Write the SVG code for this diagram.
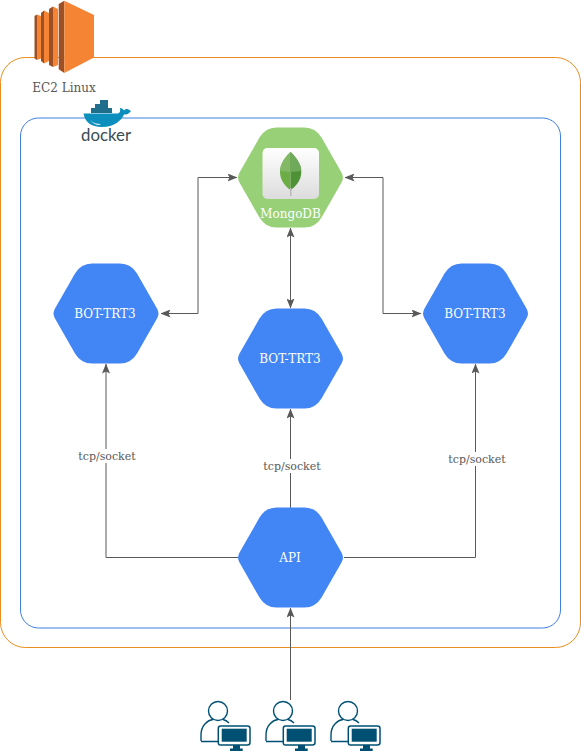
<svg xmlns="http://www.w3.org/2000/svg" width="581" height="752" viewBox="0 0 581 752">
<style>
.lbl{font-family:"DejaVu Serif",serif;font-size:12px;text-anchor:middle;fill:#fff}
.edge{fill:none;stroke:#595959;stroke-width:1}
.elbl{font-family:"DejaVu Serif",serif;font-size:11px;text-anchor:middle;fill:#595959}
.lblbg{fill:#fff}
.usr{fill:none;stroke:#005073;stroke-width:1.4}
.mon{fill:#005073}
</style>
<defs>
<path id="hex" d="M-52.500 0Q-52.500 -2 -51 -5L-31 -40Q-25 -50 -14 -50L14 -50Q25 -50 31 -40L51 -5Q52.500 -2 52.500 0Q52.500 2 51 5L31 40Q25 50 14 50L-14 50Q-25 50 -31 40L-51 5Q-52.500 2 -52.500 0Z"/>
<marker id="arr" viewBox="0 0 10 8" refX="9.500" refY="4" markerWidth="10" markerHeight="8" markerUnits="userSpaceOnUse" orient="auto-start-reverse"><path d="M0 0L10 4L0 8L2 4Z" fill="#595959"/></marker>
<linearGradient id="mg" x1="0" y1="0" x2="0" y2="1"><stop offset="0" stop-color="#fff"/><stop offset="1" stop-color="#dcdcdc"/></linearGradient>
<g id="user">
<circle cx="0" cy="0" r="9.500" class="usr"/>
<path d="M-17 30V24C-17 14 -10 9 -5 8.500M5 8.500C7 9 9 10 11 12M-17 30.500H0" class="usr"/>
<path d="M2.500 15H29.500Q32 15 32 17.500V31.500Q32 34 29.500 34H2.500Q0.300 34 0.300 31.500V17.500Q0.300 15 2.500 15Z" fill="#fff" stroke="#005073" stroke-width="1.500"/>
<rect x="3.700" y="17.700" width="25" height="13" class="mon"/>
<path d="M15 34H22V37.500H24.700V40H12V37.500H15Z" class="mon"/>
</g>
</defs>
<rect id="ec2-box" x="0.500" y="57.500" width="580" height="590" rx="25" fill="#fff" stroke="#e88d1e"/>
<rect id="docker-box" x="20.500" y="118" width="540" height="510" rx="18" fill="#fff" stroke="#3f7fe0"/>
<g id="ec2-icon">
<polygon points="34.500,16 37,14.500 37,60 34.500,58.500" fill="#9d5025"/><polygon points="37,14.500 41,16 41,58.500 37,60" fill="#f58534"/>
<polygon points="41,13 44,10.500 44,63.500 41,61" fill="#9d5025"/><polygon points="44,10.500 49,13 49,61 44,63.500" fill="#f58534"/>
<polygon points="49,9 53,6.500 53,67 49,65" fill="#9d5025"/><polygon points="53,6.500 58,9 58,65 53,67" fill="#f58534"/>
<polygon points="58.700,4 64.300,0.700 64.300,73 58.700,69.300" fill="#9d5025"/><polygon points="64.300,0.700 94,15 94,57.500 64.300,73" fill="#f58534"/>
</g>
<text id="ec2-label" x="64" y="92" font-family="DejaVu Serif,serif" font-size="12px" text-anchor="middle" fill="#595959">EC2 Linux</text>
<g id="docker-logo">
<path d="M83.500 113.500H118C120 113 120.500 111 120 108C122 108 123 109 124 110.500C125 108.500 127.500 108 131 111C129 114 126.500 114.500 124 114.500C121 121 114 127 102 127C91 127 85 122 83.500 113.500Z" fill="#0d8fbd"/>
<path d="M91 113H112V108H108V100H100V104H95V108H91Z" fill="#1f6e8c"/>
<path d="M90 120C93 123 97 124 101 124C99 126 94 125 90 120Z" fill="#d5eef5"/>
<text x="106" y="141" font-family="Lato,sans-serif" font-size="18px" text-anchor="middle" fill="#394d54" textLength="50" lengthAdjust="spacingAndGlyphs">docker</text>
</g>
<g id="connectors">
<path class="edge" d="M161 313.500H198V177.500H237" marker-start="url(#arr)" marker-end="url(#arr)"/>
<path class="edge" d="M290.500 228V308" marker-start="url(#arr)" marker-end="url(#arr)"/>
<path class="edge" d="M345 177.500H383V313.500H421" marker-start="url(#arr)" marker-end="url(#arr)"/>
<path class="edge" d="M238 557.500H106V364" marker-end="url(#arr)"/>
<path class="edge" d="M290.500 508V409" marker-end="url(#arr)"/>
<path class="edge" d="M344 557.500H475.500V364" marker-end="url(#arr)"/>
<path class="edge" d="M290.500 700V608" marker-end="url(#arr)"/>
<rect class="lblbg" x="78" y="449" width="58" height="14"/>
<text class="elbl" x="107" y="460">tcp/socket</text>
<rect class="lblbg" x="263" y="459" width="58" height="14"/>
<text class="elbl" x="292" y="470">tcp/socket</text>
<rect class="lblbg" x="448" y="452" width="58" height="14"/>
<text class="elbl" x="477" y="463">tcp/socket</text>
</g>
<g id="mongodb">
<use href="#hex" transform="translate(290.500 177.500)" fill="#97d077"/>
<rect x="262.500" y="148" width="56.500" height="51" rx="5" fill="url(#mg)"/>
<path d="M290.500 152C284 158 280 165 280 172C280 181 286 187 290.500 190Z" fill="#6cae45"/>
<path d="M290.500 152C284 158 280 165 280 171L290.500 172Z" fill="#83b966"/>
<path d="M290.500 152C297 158 301.300 165 301.300 172C301.300 181 295 187 290.500 190Z" fill="#4f9137"/>
<path d="M290.500 152C297 158 301.300 165 301.300 171L290.500 172Z" fill="#6fa95a"/>
<rect x="290" y="188" width="1.500" height="8" fill="#b8b8b8"/>
<text class="lbl" x="290.500" y="218">MongoDB</text>
</g>
<g id="bot-left"><use href="#hex" transform="translate(106 313.500)" fill="#4285f4"/><text class="lbl" x="105" y="318">BOT-TRT3</text></g>
<g id="bot-center"><use href="#hex" transform="translate(290.500 358.500)" fill="#4285f4"/><text class="lbl" x="290" y="363">BOT-TRT3</text></g>
<g id="bot-right"><use href="#hex" transform="translate(475.500 313.500)" fill="#4285f4"/><text class="lbl" x="475" y="318">BOT-TRT3</text></g>
<g id="api"><use href="#hex" transform="translate(290.500 557.500)" fill="#4285f4"/><text class="lbl" x="290" y="562">API</text></g>
<g id="user-1"><use href="#user" x="218" y="711"/></g>
<g id="user-2"><use href="#user" x="283" y="711"/></g>
<g id="user-3"><use href="#user" x="348" y="711"/></g>
</svg>
